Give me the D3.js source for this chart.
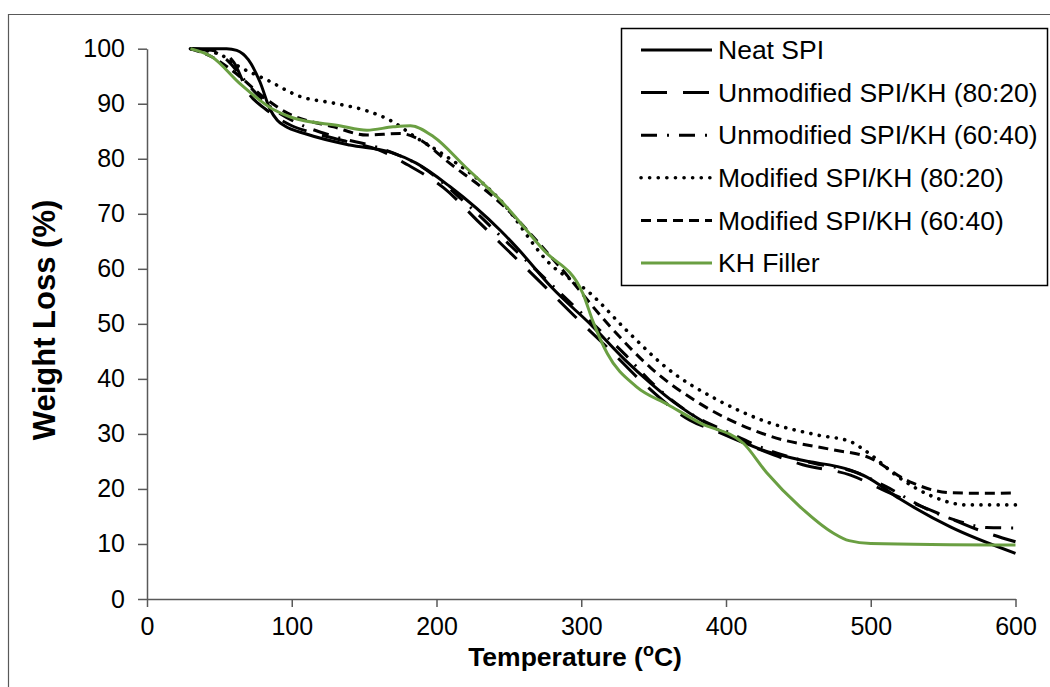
<!DOCTYPE html>
<html lang="en">
<head>
<meta charset="UTF-8">
<title>TGA curves</title>
<script src="https://d3js.org/d3.v7.min.js"></script>
<style>
  body { margin: 0; background: #fff; font-family: "Liberation Sans", Arial, sans-serif; }
  .axis text { font-size: 25px; fill: #000; font-family: "Liberation Sans", Arial, sans-serif; }
  .axis path, .axis line { stroke: #595959; stroke-width: 1.5px; }
  .legend text { font-size: 26.5px; fill: #000; }
</style>
</head>
<body>
<svg id="chart" width="1050" height="687"></svg>
<script>
// series: [temperature (°C), weight (%)]
const neatSPI = [[30,100],[55,100],[62,99.7],[70,98],[78,94],[85,89],[90,87],[95,86],[110,84.5],[140,82.5],[168,81.2],[186,79.2],[209,75],[244,67],[255,64],[280,56.5],[308,49.5],[330,43.5],[348,39.2],[368,35],[400,30],[424,27.2],[451,25.3],[486,23.4],[497,22.2],[520,18.2],[555,13.1],[600,8.3]];
const unmod8020 = [[30,100],[50,99.5],[60,97.5],[70,92],[82,89],[100,86],[115,84.7],[140,83],[160,81.6],[180,78.9],[205,74.7],[230,68.3],[244,64.7],[274,57],[297,51],[320,45.2],[343,39.2],[375,32.5],[394,30.4],[424,27.1],[453,24.4],[486,22.5],[511,19.5],[550,15.2],[575,12.5],[600,10.4]];
const unmod6040 = [[30,100],[45,99.5],[55,98],[65,95],[75,92],[85,89.5],[100,87],[130,84],[160,82],[190,78.5],[220,72],[250,64.5],[280,57],[300,52],[330,44.5],[350,39],[380,33],[400,30.5],[430,27],[460,24.7],[490,23],[510,20.5],[540,16.2],[560,14.2],[580,13],[600,12.9]];
const mod8020 = [[30,100],[50,99],[64,96.7],[83,94.3],[106,91.3],[129,90.1],[152,88.7],[170,86.7],[185,84],[200,81.6],[244,72.5],[278,61],[306,55.6],[331,48.9],[359,42],[394,36.2],[428,32.2],[463,29.8],[486,28.6],[497,26.8],[520,22],[543,18.6],[566,17.1],[600,17.1]];
const mod6040 = [[30,100],[45,98.5],[60,95.8],[83,90.7],[97,88.3],[129,85.8],[152,84.3],[175,84.6],[186,83.8],[209,79.2],[244,72],[285,60.4],[320,49.5],[348,42],[382,35.5],[428,29.8],[474,27.1],[497,25.9],[527,21.3],[555,19.3],[580,19.2],[600,19.3]];
const khFiller = [[30,100],[45,98.5],[64,93.7],[87,89],[100,87.5],[133,86],[152,85.2],[170,85.8],[182,86],[198,84],[220,78.5],[244,72.5],[274,63.4],[301,55.6],[308,50.5],[318,44.6],[338,38.6],[360,35.3],[382,32],[412,28.3],[428,23],[451,16.8],[474,12],[485,10.6],[500,10.1],[600,9.8]];

const seriesNames = ["Neat SPI", "Unmodified SPI/KH (80:20)", "Unmodified SPI/KH (60:40)",
                     "Modified SPI/KH (80:20)", "Modified SPI/KH (60:40)", "KH Filler"];
const xTicks = [0, 100, 200, 300, 400, 500, 600];
const yTicks = [0, 10, 20, 30, 40, 50, 60, 70, 80, 90, 100];

const series = [
  { name: seriesNames[0], data: neatSPI,   color: "#000", dash: null },
  { name: seriesNames[1], data: unmod8020, color: "#000", dash: "26,16" },
  { name: seriesNames[2], data: unmod6040, color: "#000", dash: "16,10,2,10" },
  { name: seriesNames[3], data: mod8020,   color: "#000", dash: "0.1,8.5", cap: "round" },
  { name: seriesNames[4], data: mod6040,   color: "#000", dash: "10,6" },
  { name: seriesNames[5], data: khFiller,  color: "#6a9f42", dash: null }
];

const svg = d3.select("#chart");
const plotL = 147, plotR = 1015.5, plotT = 48.7, plotB = 599;

const x = d3.scaleLinear().domain([0, 600]).range([plotL, plotR]);
const y = d3.scaleLinear().domain([0, 100]).range([plotB, plotT]);

// outer frame (top and left edges visible)
svg.append("path")
  .attr("d", "M8.5,687 L8.5,14.5 L1050,14.5")
  .attr("fill", "none").attr("stroke", "#595959").attr("stroke-width", 1.2);

svg.append("g").attr("class", "axis")
  .attr("transform", `translate(0,${plotB})`)
  .call(d3.axisBottom(x).tickValues(xTicks).tickSize(8).tickSizeOuter(0).tickPadding(5).tickFormat(d3.format("d")))
  .call(g => g.selectAll("text").attr("dy", "0.9em"));

svg.append("g").attr("class", "axis")
  .attr("transform", `translate(${plotL},0)`)
  .call(d3.axisLeft(y).tickValues(yTicks).tickSize(9).tickSizeOuter(0).tickPadding(13).tickFormat(d3.format("d")));

const line = d3.line()
  .x(d => x(d[0]))
  .y(d => y(d[1]))
  .curve(d3.curveMonotoneX);

series.forEach(s => {
  svg.append("path")
    .datum(s.data)
    .attr("fill", "none")
    .attr("stroke", s.color)
    .attr("stroke-width", s.cap ? 3.6 : 3)
    .attr("stroke-dasharray", s.dash)
    .attr("stroke-linecap", s.cap || "butt")
    .attr("stroke-linejoin", "round")
    .attr("d", line);
});

// axis titles
svg.append("text")
  .attr("x", 575).attr("y", 666)
  .attr("text-anchor", "middle")
  .attr("font-size", 26.5).attr("font-weight", "bold")
  .html('Temperature (<tspan baseline-shift="super" font-size="18">o</tspan>C)');

svg.append("text")
  .attr("transform", `translate(55,320) rotate(-90)`)
  .attr("text-anchor", "middle")
  .attr("font-size", 31).attr("font-weight", "bold")
  .text("Weight Loss (%)");

// legend
const lg = svg.append("g").attr("class", "legend");
lg.append("rect")
  .attr("x", 621.5).attr("y", 28.5).attr("width", 426).attr("height", 257)
  .attr("fill", "#fff").attr("stroke", "#000").attr("stroke-width", 1.5);

series.forEach((s, i) => {
  const cy = 50 + i * 42.6;
  lg.append("line")
    .attr("x1", 641).attr("x2", 712).attr("y1", cy).attr("y2", cy)
    .attr("stroke", s.color)
    .attr("stroke-width", s.cap ? 3.6 : 3)
    .attr("stroke-dasharray", s.dash)
    .attr("stroke-linecap", s.cap || "butt");
  lg.append("text")
    .attr("x", 718).attr("y", cy).attr("dy", "0.35em")
    .text(s.name);
});
</script>
</body>
</html>
